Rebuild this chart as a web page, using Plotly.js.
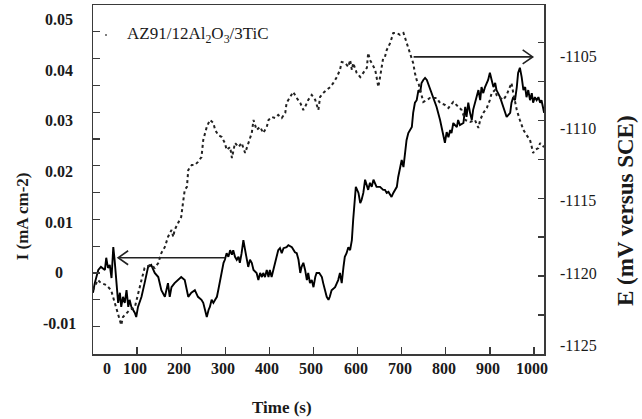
<!DOCTYPE html>
<html>
<head>
<meta charset="utf-8">
<script src="https://cdn.plot.ly/plotly-3.0.1.min.js"></script>
<style>
  html, body { margin: 0; padding: 0; background: #fff; }
  #chart { width: 642px; height: 419px; }
</style>
</head>
<body>
<div id="chart"></div>
<script>
// Current density (left axis), solid line
const solidTime = [0,4,12,18,27,30,34,38,42,46,49,53,57,61,64,68,72,76,80,83,87,95,98,102,110,117,125,132,140,148,151,155,163,170,174,178,185,193,200,208,212,216,223,231,238,246,250,254,258,262,265,269,273,277,281,284,288,292,296,299,303,307,311,315,318,322,326,330,333,337,341,345,349,352,356,360,364,371,375,379,383,386,390,394,398,401,405,409,413,417,420,424,428,432,439,443,451,458,462,466,470,473,477,481,485,488,492,496,500,504,507,513,519,522,526,530,534,537,541,549,553,556,560,564,568,571,575,579,583,587,590,594,596,602,606,609,613,617,621,624,628,632,636,639,643,651,658,662,666,670,674,677,681,689,692,696,700,704,708,711,715,719,723,726,730,734,738,742,745,749,753,757,764,772,779,787,794,798,802,806,810,813,817,825,828,832,840,844,847,851,855,859,862,870,874,878,881,885,889,896,900,904,908,912,915,923,930,934,938,946,949,953,957,961,964,968,972,976,980,983,987,991,995,998,1002,1006,1010,1014,1017,1023];
const currentDensity = [-0.0039,-0.0020,0.0006,0.0012,0.0006,0.0030,0.0010,0.0016,-0.0010,0.0051,0.0026,-0.0020,-0.0059,-0.0039,-0.0067,-0.0047,-0.0059,-0.0034,-0.0067,-0.0053,-0.0067,-0.0079,-0.0087,-0.0067,-0.0047,-0.0020,0.0012,0.0016,0.0000,-0.0008,-0.0020,-0.0034,-0.0047,-0.0020,-0.0047,-0.0028,-0.0020,-0.0014,-0.0008,-0.0014,-0.0028,-0.0047,-0.0039,-0.0034,-0.0047,-0.0053,-0.0059,-0.0073,-0.0087,-0.0073,-0.0067,-0.0053,-0.0059,-0.0053,-0.0047,-0.0034,-0.0014,0.0000,0.0020,0.0026,0.0039,0.0032,0.0045,0.0036,0.0045,0.0032,0.0026,0.0032,0.0020,0.0039,0.0065,0.0045,0.0026,0.0012,0.0026,0.0020,0.0006,0.0000,-0.0014,0.0000,-0.0008,0.0000,-0.0008,0.0006,-0.0008,0.0006,-0.0008,0.0006,0.0026,0.0039,0.0045,0.0049,0.0039,0.0049,0.0051,0.0055,0.0051,0.0041,0.0039,0.0026,0.0000,0.0012,0.0020,0.0006,-0.0014,0.0000,-0.0020,-0.0014,-0.0028,-0.0008,0.0000,0.0000,-0.0008,-0.0020,-0.0034,-0.0047,-0.0053,-0.0047,-0.0034,-0.0028,-0.0020,-0.0014,0.0000,-0.0020,0.0012,0.0032,0.0039,0.0051,0.0045,0.0065,0.0105,0.0150,0.0170,0.0158,0.0138,0.0144,0.0158,0.0184,0.0170,0.0164,0.0178,0.0170,0.0184,0.0178,0.0170,0.0170,0.0164,0.0164,0.0158,0.0160,0.0154,0.0150,0.0158,0.0170,0.0189,0.0209,0.0223,0.0209,0.0237,0.0262,0.0276,0.0282,0.0288,0.0316,0.0336,0.0341,0.0361,0.0357,0.0375,0.0381,0.0385,0.0381,0.0365,0.0347,0.0328,0.0302,0.0276,0.0257,0.0278,0.0268,0.0282,0.0276,0.0296,0.0288,0.0302,0.0292,0.0296,0.0328,0.0308,0.0336,0.0316,0.0302,0.0322,0.0347,0.0361,0.0341,0.0367,0.0355,0.0367,0.0381,0.0395,0.0381,0.0367,0.0375,0.0361,0.0347,0.0328,0.0316,0.0308,0.0316,0.0336,0.0347,0.0341,0.0367,0.0395,0.0405,0.0387,0.0361,0.0367,0.0347,0.0361,0.0341,0.0355,0.0336,0.0347,0.0341,0.0347,0.0336,0.0341,0.0316];

// Potential (right axis), dotted line
const dashedTime = [0,11,18,30,41,52,57,64,68,76,83,95,102,110,117,129,140,148,155,163,170,178,182,185,193,200,204,208,213,216,224,231,238,246,250,254,258,265,273,277,284,292,299,303,311,315,322,330,337,345,352,360,364,371,379,386,394,398,405,413,420,428,436,439,447,454,462,470,477,481,488,496,504,511,515,522,530,538,545,553,560,564,572,579,583,587,590,598,606,613,621,624,628,632,640,643,647,651,655,658,662,666,674,681,689,696,704,711,719,726,730,734,738,745,749,757,764,779,787,798,806,817,825,836,844,855,866,874,878,885,893,900,904,912,915,923,930,938,942,949,953,957,961,968,976,983,991,995,998,1002,1010,1014,1017,1023];
const potential = [-1121.18,-1120.48,-1120.69,-1120.83,-1121.18,-1122.35,-1123.04,-1123.60,-1123.04,-1122.77,-1122.56,-1122.35,-1121.38,-1120.48,-1119.65,-1119.45,-1119.65,-1119.31,-1118.62,-1118.20,-1117.51,-1117.03,-1117.51,-1117.03,-1116.54,-1116.13,-1115.16,-1114.26,-1114.05,-1112.88,-1112.53,-1112.53,-1112.32,-1111.98,-1110.80,-1110.32,-1109.90,-1109.42,-1109.63,-1110.11,-1110.46,-1110.60,-1111.01,-1111.49,-1111.29,-1112.05,-1111.01,-1111.29,-1111.01,-1111.70,-1111.01,-1110.32,-1109.42,-1110.11,-1109.90,-1110.32,-1109.90,-1109.42,-1109.21,-1109.28,-1109.07,-1109.28,-1108.93,-1108.24,-1107.83,-1107.48,-1107.90,-1108.24,-1108.73,-1108.52,-1108.04,-1107.69,-1108.04,-1108.73,-1107.83,-1107.55,-1107.34,-1107.14,-1106.86,-1106.45,-1105.96,-1105.41,-1105.48,-1105.75,-1105.27,-1105.96,-1105.48,-1106.17,-1106.45,-1106.17,-1105.82,-1104.78,-1105.27,-1105.48,-1105.96,-1106.45,-1107.14,-1106.45,-1105.75,-1105.13,-1105.06,-1104.58,-1104.09,-1103.40,-1103.40,-1103.54,-1103.40,-1104.09,-1104.78,-1105.48,-1106.17,-1106.66,-1106.86,-1107.83,-1108.17,-1108.04,-1107.90,-1107.90,-1108.24,-1108.38,-1108.59,-1108.17,-1108.38,-1108.73,-1109.42,-1109.56,-1109.42,-1109.97,-1109.42,-1108.93,-1108.59,-1108.04,-1107.55,-1107.34,-1107.69,-1107.90,-1108.04,-1107.69,-1107.34,-1106.86,-1107.55,-1108.24,-1108.73,-1109.42,-1110.11,-1110.46,-1110.80,-1111.29,-1111.70,-1111.49,-1111.36,-1111.01,-1111.15,-1111.29];

// Axis labels
const timeTicks = [0,100,200,300,400,500,600,700,800,900,1000];
const currentTicks = [0.05,0.04,0.03,0.02,0.01,0,-0.01];
const potentialTicks = [-1105,-1110,-1115,-1120,-1125];

// Arrows pointing each curve to its own axis
const currentArrow = {from: 300, to: 57, level: 0.003, axis: 'y', dir: -1};
const potentialArrow = {from: 727, to: 997, level: -1105.06, axis: 'y2', dir: 1};

const serif = 'Liberation Serif, Times New Roman, serif';
const ink = '#1a1a1a';
const frame = '#3a3a3a';

const traces = [
  {
    x: solidTime, y: currentDensity, type: 'scatter', mode: 'lines',
    line: {color: '#000', width: 1.9}, yaxis: 'y', showlegend: false, hoverinfo: 'skip'
  },
  {
    x: dashedTime, y: potential, type: 'scatter', mode: 'lines',
    line: {color: '#222', width: 2, dash: '3px,3px'}, yaxis: 'y2', showlegend: false, hoverinfo: 'skip'
  }
];

const annotations = [];

currentTicks.forEach(v => {
  annotations.push({
    text: '<b>' + (v === 0 ? '0' : v.toFixed(2)) + '</b>',
    xref: 'paper', x: -0.0743, xanchor: 'center',
    yref: 'y', y: v, yanchor: 'middle',
    showarrow: false, font: {family: serif, size: 16, color: ink}
  });
});

potentialTicks.forEach(v => {
  annotations.push({
    text: String(v),
    xref: 'paper', x: 1.031, xanchor: 'left',
    yref: 'y2', y: v, yanchor: 'middle',
    showarrow: false, font: {family: serif, size: 16, color: ink}
  });
});

timeTicks.forEach(v => {
  annotations.push({
    text: '<b>' + v + '</b>',
    xref: 'x', x: v, xanchor: 'center', xshift: v === 0 ? 14 : -2,
    yref: 'paper', y: 0, yanchor: 'middle', yshift: -14,
    showarrow: false, font: {family: serif, size: 16, color: ink}
  });
});

// Axis titles and the legend entry
annotations.push(
  {text: '<b>Time (s)</b>', xref: 'paper', yref: 'paper', x: 0.419, y: -0.152,
   xanchor: 'center', yanchor: 'middle', showarrow: false, font: {family: serif, size: 17, color: ink}},
  {text: '<b>I (mA cm-2)</b>', xref: 'paper', yref: 'paper', x: -0.157, y: 0.395, textangle: -90,
   xanchor: 'center', yanchor: 'middle', showarrow: false, font: {family: serif, size: 17, color: ink}},
  {text: '<b>E (mV versus SCE)</b>', xref: 'paper', yref: 'paper', x: 1.182, y: 0.41, textangle: -90,
   xanchor: 'center', yanchor: 'middle', showarrow: false, font: {family: serif, size: 23, color: ink}},
  {text: 'AZ91/12Al<sub>2</sub>O<sub>3</sub>/3TiC', xref: 'paper', yref: 'paper', x: 0.071, y: 0.914,
   xanchor: 'left', yanchor: 'middle', showarrow: false, font: {family: serif, size: 17, color: ink}}
);

// Arrow shafts plus open chevron heads
function arrowShapes(a) {
  const d = -a.dir;
  return [
    {type: 'line', xref: 'x', yref: a.axis, x0: a.from, x1: a.to, y0: a.level, y1: a.level,
     line: {color: '#222', width: 1.6}},
    {type: 'path', xref: 'x', yref: a.axis, xsizemode: 'pixel', ysizemode: 'pixel',
     xanchor: a.to, yanchor: a.level,
     path: 'M ' + (10 * d) + ',7 L 0,0 L ' + (10 * d) + ',-7',
     line: {color: '#222', width: 1.6}}
  ];
}

const layout = {
  width: 642, height: 419,
  margin: {l: 93, r: 98, t: 5, b: 65},
  paper_bgcolor: '#fff', plot_bgcolor: '#fff',
  showlegend: false,
  font: {family: serif, color: ink},
  xaxis: {
    range: [0, 1022.7], showgrid: false, zeroline: false,
    showline: true, linecolor: frame, linewidth: 1.5, mirror: true,
    ticks: 'inside', ticklen: 7, tickwidth: 1.3, tickcolor: frame,
    tick0: 0, dtick: 100, showticklabels: false
  },
  yaxis: {
    range: [-0.01599, 0.05289], showgrid: false, zeroline: false,
    showline: true, linecolor: frame, linewidth: 1.5,
    ticks: 'inside', ticklen: 7, tickwidth: 1.3, tickcolor: frame,
    tick0: 0, dtick: 0.00529, showticklabels: false
  },
  yaxis2: {
    range: [-1125.60, -1101.47], overlaying: 'y', side: 'right',
    showgrid: false, zeroline: false,
    showline: true, linecolor: frame, linewidth: 1.5,
    ticks: 'inside', ticklen: 6, tickwidth: 1.3, tickcolor: frame,
    tick0: -1120.21, dtick: 2.69, showticklabels: false
  },
  shapes: [
    {type: 'circle', xref: 'paper', yref: 'paper', xsizemode: 'pixel', ysizemode: 'pixel',
     xanchor: 0.0288, yanchor: 0.914, x0: -1, x1: 1, y0: -1, y1: 1,
     fillcolor: '#555', line: {width: 0}}
  ].concat(arrowShapes(currentArrow), arrowShapes(potentialArrow)),
  annotations: annotations
};

Plotly.newPlot('chart', traces, layout, {staticPlot: true, displayModeBar: false});
</script>
</body>
</html>
